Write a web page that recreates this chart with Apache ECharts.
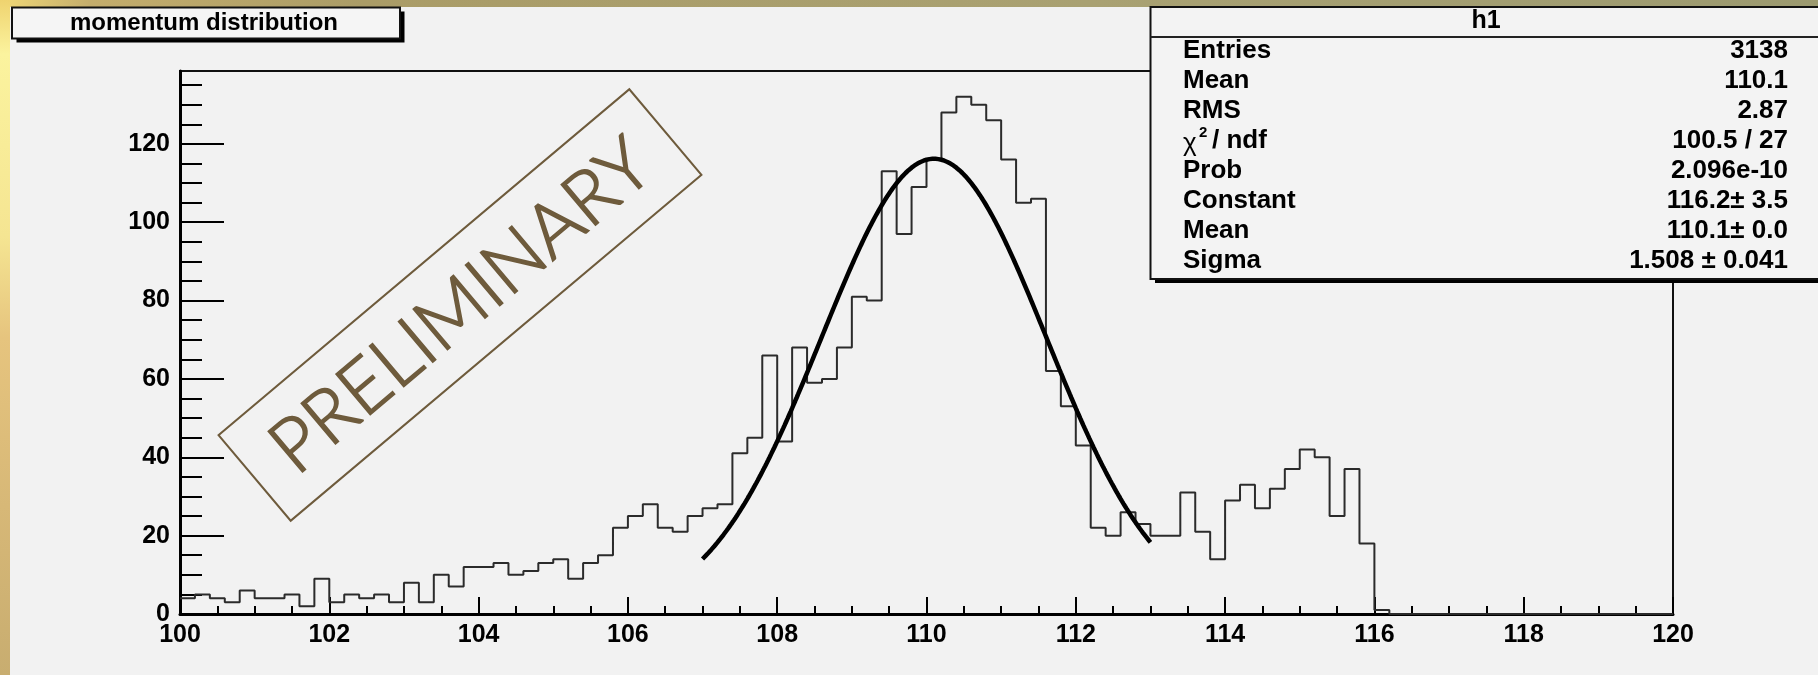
<!DOCTYPE html>
<html>
<head>
<meta charset="utf-8">
<script src="https://cdn.jsdelivr.net/npm/echarts@6/dist/echarts.min.js"></script>
<style>
  html, body { margin: 0; padding: 0; background: #f2f2f2; }
  #chart { width: 1818px; height: 675px; }
</style>
</head>
<body>
<div id="chart"></div>
<script>
// Histogram h1: momentum, 100 bins of width 0.2 between 100 and 120
const xMin = 100;
const xMax = 120;
const binWidth = 0.2;
const yMax = 138.6;
const counts = [
  4, 5, 4, 3, 6, 4, 4, 5, 2, 9,
  3, 5, 4, 5, 3, 8, 3, 10, 7, 12,
  12, 13, 10, 11, 13, 14, 9, 13, 15, 22,
  25, 28, 22, 21, 25, 27, 28, 41, 45, 66,
  44, 68, 59, 60, 68, 81, 80, 113, 97, 109,
  116, 128, 132, 130, 126, 116, 105, 106, 62, 53,
  43, 22, 20, 26, 23, 20, 20, 31, 21, 14,
  29, 33, 27, 32, 37, 42, 40, 25, 37, 18,
  1, 0, 0, 0, 0, 0, 0, 0, 0, 0,
  0, 0, 0, 0, 0, 0, 0, 0, 0, 0
];

// Gaussian fit parameters and range
const fitConstant = 116.2;
const fitMean = 110.1;
const fitSigma = 1.508;
const fitRange = [107, 113];

// Statistics box contents
const statTitle = 'h1';
const statNames = ['Entries', 'Mean', 'RMS', null, 'Prob', 'Constant', 'Mean', 'Sigma'];
const statValues = ['3138', '110.1', '2.87', '100.5 / 27', '2.096e-10', '116.2\u00b1 3.5', '110.1\u00b1 0.0', '1.508 \u00b1 0.041'];
const chartTitle = 'momentum distribution';
const watermark = 'PRELIMINARY';

// ---- layout ----
const frame = { left: 180, top: 71, width: 1493, height: 543 };
const frameBottom = frame.top + frame.height;
const pxPerCount = frame.height / yMax;
const sans = '"Liberation Sans", Arial, Helvetica, sans-serif';
const labelStyle = { fontFamily: sans, fontWeight: 'bold', fontSize: 25, color: '#000' };
const ink = '#000';
const brown = '#6e5b3c';

// step outline of the histogram
const histData = counts.map((c, i) => [xMin + i * binWidth, c]);
histData.push([xMax, counts[counts.length - 1]]);

// fitted gaussian, sampled across the fit range
const fitSteps = 300;
const fitData = [];
for (let i = 0; i <= fitSteps; i++) {
  const x = fitRange[0] + (fitRange[1] - fitRange[0]) * i / fitSteps;
  const d = (x - fitMean) / fitSigma;
  fitData.push([x, fitConstant * Math.exp(-0.5 * d * d)]);
}

const tickLine = { color: ink, width: 2 };

// statistics box graphics
const statBox = { x: 1150.5, y: 7, w: 672, h: 272 };
const statRowY0 = 51;
const statRowStep = 29.95;
const statLabelX = 1183;
const statValueX = 1788;
const statFont = 'bold 26px ' + sans;

function label(text, x, y, font, align) {
  return { type: 'text', x: x, y: y, z: 22,
    style: { text: text, font: font, fill: ink, align: align, verticalAlign: 'middle', textAlign: align, textVerticalAlign: 'middle' } };
}

const statGraphics = [
  { type: 'rect', shape: { x: statBox.x + 4.5, y: statBox.y + 4, width: statBox.w, height: statBox.h }, style: { fill: '#000' }, z: 20 },
  { type: 'rect', shape: { x: statBox.x, y: statBox.y, width: statBox.w, height: statBox.h }, style: { fill: '#f3f3f3', stroke: '#111', lineWidth: 2 }, z: 21 },
  { type: 'line', shape: { x1: statBox.x, y1: 37, x2: statBox.x + statBox.w, y2: 37 }, style: { stroke: '#222', lineWidth: 2 }, z: 22 },
  label(statTitle, 1486, 21, 'bold 25px ' + sans, 'center')
];
statNames.forEach((name, i) => {
  const y = statRowY0 + i * statRowStep;
  if (name !== null) {
    statGraphics.push(label(name, statLabelX, y, statFont, 'left'));
  } else {
    // chi-square over degrees of freedom
    statGraphics.push(label('\u03c7', statLabelX, y + 3, '26px ' + sans, 'left'));
    statGraphics.push(label('2', statLabelX + 16, y - 8, 'bold 15px ' + sans, 'left'));
    statGraphics.push(label('/ ndf', statLabelX + 29, y, statFont, 'left'));
  }
  statGraphics.push(label(statValues[i], statValueX, y, statFont, 'right'));
});

// title box
const titleBox = { x: 12, y: 7.5, w: 388, h: 31 };
const titleGraphics = [
  { type: 'rect', shape: { x: titleBox.x + 4.5, y: titleBox.y + 4, width: titleBox.w, height: titleBox.h }, style: { fill: '#000' }, z: 20 },
  { type: 'rect', shape: { x: titleBox.x, y: titleBox.y, width: titleBox.w, height: titleBox.h }, style: { fill: '#f5f5f5', stroke: '#111', lineWidth: 2 }, z: 21 },
  label(chartTitle, titleBox.x + titleBox.w / 2 - 2, titleBox.y + titleBox.h / 2, 'bold 24px ' + sans, 'center')
];

// tilted watermark stamp
const stampAngle = 40.1 * Math.PI / 180;
const stamp = { cx: 460, cy: 305, w: 537, h: 112 };
const stampGraphics = [{
  type: 'group', x: stamp.cx, y: stamp.cy, rotation: stampAngle, z: 5,
  children: [
    { type: 'rect', shape: { x: -stamp.w / 2, y: -stamp.h / 2, width: stamp.w, height: stamp.h }, style: { fill: 'none', stroke: brown, lineWidth: 2 } },
    { type: 'text', x: 0, y: 2, style: { text: watermark, font: '300 75px Lato, "Open Sans", sans-serif', fill: brown, stroke: brown, lineWidth: 1.6, align: 'center', verticalAlign: 'middle', textAlign: 'center', textVerticalAlign: 'middle' } }
  ]
}];

// golden border strips at the top and left of the canvas
const borderGraphics = [
  { type: 'rect', shape: { x: 0, y: 0, width: 1818, height: 7 }, z: 1,
    style: { fill: new echarts.graphic.LinearGradient(0, 0, 1, 0, [
      { offset: 0, color: '#f0d877' }, { offset: 0.05, color: '#c4ad6c' }, { offset: 0.2, color: '#aa9c67' },
      { offset: 0.6, color: '#a9a172' }, { offset: 1, color: '#9c9a70' }]) } },
  { type: 'rect', shape: { x: 0, y: 0, width: 10, height: 675 }, z: 1,
    style: { fill: new echarts.graphic.LinearGradient(0, 0, 0, 1, [
      { offset: 0, color: '#efd36f' }, { offset: 0.08, color: '#fbf39e' }, { offset: 0.35, color: '#f5e592' },
      { offset: 0.5, color: '#e6c47e' }, { offset: 0.75, color: '#d7b877' }, { offset: 1, color: '#c8ad70' }]) } }
];

const chart = echarts.init(document.getElementById('chart'), null, { renderer: 'canvas', width: 1818, height: 675 });
chart.setOption({
  animation: false,
  backgroundColor: '#f2f2f2',
  grid: [
    { left: frame.left, top: frame.top, width: frame.width, height: frame.height, show: true, borderColor: '#111', borderWidth: 2, backgroundColor: 'transparent' },
    { left: frame.left, top: frameBottom - 120 * pxPerCount, width: frame.width, height: 120 * pxPerCount },
    { left: frame.left, top: frameBottom - 135 * pxPerCount, width: frame.width, height: 135 * pxPerCount }
  ],
  xAxis: [
    {
      gridIndex: 0, type: 'value', min: xMin, max: xMax, interval: 2,
      axisLine: { show: true, onZero: false, lineStyle: { color: ink, width: 3 } },
      axisTick: { show: true, inside: true, length: 17, lineStyle: tickLine },
      minorTick: { show: true, splitNumber: 4, length: 8, lineStyle: tickLine },
      axisLabel: Object.assign({ margin: 9 }, labelStyle),
      splitLine: { show: false }, minorSplitLine: { show: false }
    },
    { gridIndex: 1, type: 'value', min: xMin, max: xMax, show: false },
    { gridIndex: 2, type: 'value', min: xMin, max: xMax, show: false }
  ],
  yAxis: [
    {
      gridIndex: 0, type: 'value', min: 0, max: yMax,
      axisLine: { show: true, onZero: false, lineStyle: { color: ink, width: 3 } },
      axisTick: { show: false }, axisLabel: { show: false }, splitLine: { show: false }
    },
    {
      gridIndex: 1, type: 'value', min: 0, max: 120, interval: 20,
      axisLine: { show: false },
      axisTick: { show: true, inside: true, length: 44, lineStyle: tickLine },
      axisLabel: Object.assign({ margin: 10 }, labelStyle),
      splitLine: { show: false }
    },
    {
      gridIndex: 2, type: 'value', min: 0, max: 135, interval: 5,
      axisLine: { show: false },
      axisTick: { show: true, inside: true, length: 22, lineStyle: tickLine },
      axisLabel: { show: false }, splitLine: { show: false }
    }
  ],
  series: [
    {
      name: 'h1', type: 'line', xAxisIndex: 0, yAxisIndex: 0, step: 'end',
      data: histData, symbol: 'none', showSymbol: false,
      lineStyle: { color: '#2b2b2b', width: 2 }, z: 3
    },
    {
      name: 'gaus', type: 'line', xAxisIndex: 0, yAxisIndex: 0,
      data: fitData, symbol: 'none', showSymbol: false,
      lineStyle: { color: '#000', width: 4.5 }, z: 4
    }
  ],
  graphic: { elements: borderGraphics.concat(stampGraphics, titleGraphics, statGraphics) }
});
</script>
</body>
</html>
